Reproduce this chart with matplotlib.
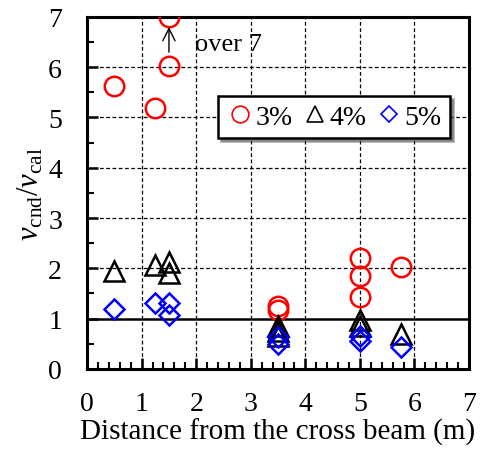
import matplotlib
matplotlib.use("Agg")
import matplotlib.pyplot as plt
from matplotlib.ticker import MultipleLocator

plt.rcParams['font.family'] = ['Liberation Serif', 'DejaVu Serif']
plt.rcParams['mathtext.fontset'] = 'custom'
plt.rcParams['mathtext.rm'] = 'Liberation Serif'
plt.rcParams['mathtext.it'] = 'Liberation Serif:italic'

# data
x3 = [0.5, 1.25, 1.5, 1.5, 3.5, 3.5, 5.0, 5.0, 5.0, 5.75]
y3 = [5.63, 5.19, 6.02, 7.0, 1.25, 1.18, 2.21, 1.85, 1.43, 2.02]
x4 = [0.5, 1.25, 1.5, 1.5, 3.5, 3.5, 3.5, 5.0, 5.0, 5.75]
y4 = [1.95, 2.07, 2.13, 1.9, 0.85, 0.75, 0.65, 0.97, 0.85, 0.7]
x5 = [0.5, 1.25, 1.5, 1.5, 3.5, 3.5, 5.0, 5.0, 5.75]
y5 = [1.2, 1.31, 1.3, 1.08, 0.64, 0.5, 0.65, 0.55, 0.44]
labels = ['3%', '4%', '5%']

fig = plt.figure(figsize=(4.84, 4.60), dpi=100)
ax = fig.add_axes([0.180, 0.196, 0.789, 0.765])

ax.set_xlim(0, 7)
ax.set_ylim(0, 7)
ax.xaxis.set_major_locator(MultipleLocator(1))
ax.xaxis.set_minor_locator(MultipleLocator(0.2))
ax.yaxis.set_major_locator(MultipleLocator(1))
ax.yaxis.set_minor_locator(MultipleLocator(0.5))

for yv in range(2, 7):
    ax.axhline(yv, color='black', lw=0.9, ls=(0, (3, 2)), zorder=1)
for xv in range(1, 7):
    ax.axvline(xv, color='black', lw=0.9, ls=(0, (3, 2)), zorder=1)
ax.axhline(1, color='black', lw=1.8, zorder=1)

ax.plot(x3, y3, 'o', ls='none', ms=14, mfc='none', mec='#ff0000', mew=1.8, label=labels[0], zorder=3)
ax.plot(x4, y4, '^', ls='none', ms=15, mfc='none', mec='black', mew=1.8, label=labels[1], zorder=3)
ax.plot(x5, y5, 'D', ls='none', ms=10.5, mfc='none', mec='#0000ff', mew=1.8, label=labels[2], zorder=3)

ax.annotate('', xy=(1.5, 6.8), xytext=(1.5, 6.3),
            arrowprops=dict(arrowstyle='->', color='black', lw=1.0, mutation_scale=22,
                            shrinkA=0, shrinkB=0))
ax.text(1.98, 6.46, 'over 7', fontsize=19, va='center', ha='left')

for s in ax.spines.values():
    s.set_linewidth(2.2)
ax.tick_params(which='major', direction='in', length=8, width=1.8, labelsize=20)
ax.tick_params(axis='x', which='major', pad=16)
ax.tick_params(axis='y', which='major', pad=18)
ax.tick_params(which='minor', direction='in', length=5, width=1.5)

ax.set_xlabel('Distance from the cross beam (m)', fontsize=21, labelpad=1)
ax.set_ylabel(r'$v_{\rm cnd}/v_{\rm cal}$', fontsize=22, labelpad=2)

leg = ax.legend(loc='upper right', bbox_to_anchor=(0.95, 0.775), ncol=3, fontsize=20,
                frameon=True, fancybox=False, shadow=True, handletextpad=0.05,
                columnspacing=0.3, borderpad=0.3, handlelength=1.0, borderaxespad=0)
leg.get_frame().set_edgecolor('black')
leg.get_frame().set_linewidth(1.8)
for h in leg.legend_handles:
    h.set_markeredgewidth(1.2)
leg.legend_handles[0].set_markersize(12)
leg.legend_handles[1].set_markersize(12)
leg.legend_handles[2].set_markersize(8.5)

fig.savefig('out.png', dpi=100)
